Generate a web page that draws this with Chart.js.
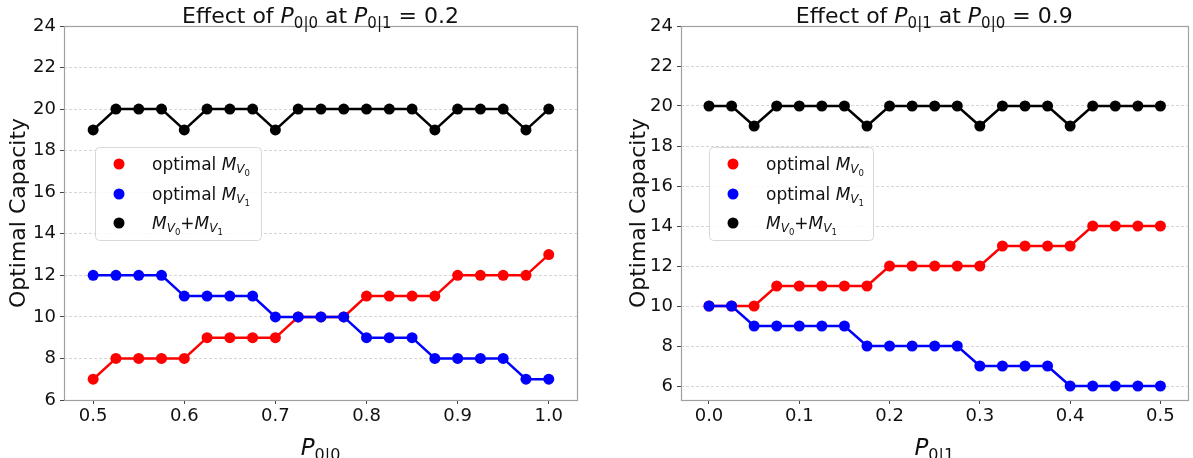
<!DOCTYPE html>
<html lang="en">
<head>
<meta charset="utf-8">
<title>Optimal Capacity vs P</title>
<script src="https://cdn.jsdelivr.net/npm/chart.js"></script>
<style>
  body { margin: 0; background: #fff; }
  #wrap { position: relative; width: 1193px; height: 458px; overflow: hidden; }
  canvas { position: absolute; top: 0; }
  #left { left: 0; }
  #right { left: 600px; }
</style>
</head>
<body>
<div id="wrap">
  <canvas id="left" width="600" height="458"></canvas>
  <canvas id="right" width="593" height="458"></canvas>
</div>
<script>
// left panel: sweep P0|0 with P0|1 = 0.2
const p00Values = [0.5, 0.525, 0.55, 0.575, 0.6, 0.625, 0.65, 0.675, 0.7, 0.725, 0.75,
                   0.775, 0.8, 0.825, 0.85, 0.875, 0.9, 0.925, 0.95, 0.975, 1.0];
const leftMV0 = [7, 8, 8, 8, 8, 9, 9, 9, 9, 10, 10, 10, 11, 11, 11, 11, 12, 12, 12, 12, 13];
const leftMV1 = [12, 12, 12, 12, 11, 11, 11, 11, 10, 10, 10, 10, 9, 9, 9, 8, 8, 8, 8, 7, 7];
const leftSum = [19, 20, 20, 20, 19, 20, 20, 20, 19, 20, 20, 20, 20, 20, 20, 19, 20, 20, 20, 19, 20];

// right panel: sweep P0|1 with P0|0 = 0.9
const p01Values = [0, 0.025, 0.05, 0.075, 0.1, 0.125, 0.15, 0.175, 0.2, 0.225, 0.25,
                   0.275, 0.3, 0.325, 0.35, 0.375, 0.4, 0.425, 0.45, 0.475, 0.5];
const rightMV0 = [10, 10, 10, 11, 11, 11, 11, 11, 12, 12, 12, 12, 12, 13, 13, 13, 13, 14, 14, 14, 14];
const rightMV1 = [10, 10, 9, 9, 9, 9, 9, 8, 8, 8, 8, 8, 7, 7, 7, 7, 6, 6, 6, 6, 6];
const rightSum = [20, 20, 19, 20, 20, 20, 20, 19, 20, 20, 20, 20, 19, 20, 20, 20, 19, 20, 20, 20, 20];

const yTicks = [6, 8, 10, 12, 14, 16, 18, 20, 22, 24];
const leftXTicks = [0.5, 0.6, 0.7, 0.8, 0.9, 1.0];
const rightXTicks = [0.0, 0.1, 0.2, 0.3, 0.4, 0.5];

const RED = '#ff0000', BLUE = '#0000ff', BLACK = '#000000';
const FAMILY = '"DejaVu Sans", sans-serif';

Chart.defaults.font.family = FAMILY;

function toPoints(xs, ys) {
    return xs.map((x, i) => ({ x: x, y: ys[i] }));
}

function lineSet(label, xs, ys, color, order) {
    return {
        label: label,
        data: toPoints(xs, ys),
        borderColor: color,
        backgroundColor: color,
        pointBackgroundColor: color,
        pointBorderWidth: 0,
        pointRadius: 5.5,
        pointHoverRadius: 5.5,
        borderWidth: 2.5,
        tension: 0,
        order: order,
    };
}

// text pieces for mathtext-like labels: t = text, s = size, it = italic, dy = baseline shift
function sub(t, s, dy) { return { t: t, s: s, dy: dy }; }

function drawRich(ctx, parts, x, y, align) {
    let total = 0;
    parts.forEach(p => {
        ctx.font = (p.it ? 'italic ' : '') + p.s + 'px ' + FAMILY;
        p.w = ctx.measureText(p.t).width;
        total += p.w;
    });
    let cx = align === 'center' ? x - total / 2 : x;
    parts.forEach(p => {
        ctx.font = (p.it ? 'italic ' : '') + p.s + 'px ' + FAMILY;
        ctx.fillText(p.t, cx, y + (p.dy || 0));
        cx += p.w;
    });
}

function mv(idx) {
    return [{ t: 'M', s: 17, it: true }, { t: 'V', s: 12, it: true, dy: 3 }, sub(idx, 8.5, 6)];
}

const legendRows = [
    { color: RED, parts: [{ t: 'optimal ', s: 17 }].concat(mv('0')) },
    { color: BLUE, parts: [{ t: 'optimal ', s: 17 }].concat(mv('1')) },
    { color: BLACK, parts: mv('0').concat([{ t: '+', s: 17 }], mv('1')) },
];

function decor(opts) {
    return {
        id: 'decor',
        afterDraw(chart) {
            const ctx = chart.ctx;
            const a = chart.chartArea;
            ctx.save();

            // spines
            ctx.strokeStyle = '#a0a0a0';
            ctx.lineWidth = 1.2;
            ctx.strokeRect(Math.round(a.left) + 0.5, Math.round(a.top) + 0.5,
                Math.round(a.right - a.left), Math.round(a.bottom - a.top));

            ctx.fillStyle = '#111';
            ctx.textBaseline = 'alphabetic';
            const mid = (a.left + a.right) / 2;
            drawRich(ctx, opts.title, mid, 23, 'center');
            drawRich(ctx, opts.xLabel, mid, 455, 'center');

            // legend box
            const bx = a.left + opts.legendDx, by = 147, bw = opts.legendW, bh = 93;
            ctx.beginPath();
            ctx.roundRect(bx + 0.5, by + 0.5, bw, bh, 4);
            ctx.fillStyle = 'rgba(255,255,255,0.85)';
            ctx.fill();
            ctx.strokeStyle = '#d8d8d8';
            ctx.lineWidth = 1;
            ctx.stroke();

            const rowY = [164, 194, 223];
            legendRows.forEach((row, i) => {
                ctx.beginPath();
                ctx.arc(bx + 24, rowY[i], 5.5, 0, Math.PI * 2);
                ctx.fillStyle = row.color;
                ctx.fill();
                ctx.fillStyle = '#111';
                drawRich(ctx, row.parts, bx + 57, rowY[i] + 6, 'left');
            });
            ctx.restore();
        },
    };
}

function makeChart(id, xs, mv0, mv1, sum, cfg) {
    return new Chart(document.getElementById(id), {
        type: 'line',
        data: {
            datasets: [
                lineSet('optimal MV0', xs, mv0, RED, 3),
                lineSet('optimal MV1', xs, mv1, BLUE, 2),
                lineSet('MV0+MV1', xs, sum, BLACK, 1),
            ],
        },
        options: {
            responsive: false,
            animation: false,
            events: [],
            layout: { padding: { left: 0, right: cfg.padRight, top: 26, bottom: 0 } },
            plugins: { legend: { display: false }, title: { display: false }, tooltip: { enabled: false } },
            scales: {
                x: {
                    type: 'linear',
                    min: cfg.xMin,
                    max: cfg.xMax,
                    afterBuildTicks: s => { s.ticks = cfg.xTicks.map(v => ({ value: v })); },
                    afterFit: s => { s.height = 58; },
                    grid: { drawOnChartArea: false, drawTicks: true, tickLength: 4, tickColor: '#444', tickWidth: 1 },
                    border: { display: false },
                    ticks: {
                        font: { size: 18 }, color: '#111', padding: 2, autoSkip: false, maxRotation: 0,
                        callback: v => Number(v).toFixed(1),
                    },
                },
                y: {
                    min: cfg.yMin,
                    max: 24,
                    afterBuildTicks: s => { s.ticks = yTicks.map(v => ({ value: v })); },
                    afterFit: s => { s.width = cfg.yWidth; },
                    grid: { color: '#cccccc', lineWidth: 0.8, tickLength: 4, tickColor: '#444', tickWidth: 1, tickBorderDash: [] },
                    border: { display: false, dash: [3, 2] },
                    ticks: { font: { size: 18 }, color: '#111', padding: 4, autoSkip: false },
                    title: {
                        display: true, text: 'Optimal Capacity', color: '#111',
                        font: { size: 22 }, padding: { top: cfg.yTitlePad, bottom: 0 },
                    },
                },
            },
        },
        plugins: [decor(cfg)],
    });
}

makeChart('left', p00Values, leftMV0, leftMV1, leftSum, {
    xMin: 0.468, xMax: 1.031, yMin: 6, xTicks: leftXTicks,
    yWidth: 64, padRight: 23, yTitlePad: 6,
    legendDx: 31, legendW: 166,
    title: [{ t: 'Effect of ', s: 22 }, { t: 'P', s: 22, it: true }, sub('0|0', 15, 5),
            { t: ' at ', s: 22 }, { t: 'P', s: 22, it: true }, sub('0|1', 15, 5), { t: ' = 0.2', s: 22 }],
    xLabel: [{ t: 'P', s: 23, it: true }, sub('0|0', 16, 5)],
});

makeChart('right', p01Values, rightMV0, rightMV1, rightSum, {
    xMin: -0.031, xMax: 0.530, yMin: 5.3, xTicks: rightXTicks,
    yWidth: 81, padRight: 2, yTitlePad: 26,
    legendDx: 28, legendW: 164,
    title: [{ t: 'Effect of ', s: 22 }, { t: 'P', s: 22, it: true }, sub('0|1', 15, 5),
            { t: ' at ', s: 22 }, { t: 'P', s: 22, it: true }, sub('0|0', 15, 5), { t: ' = 0.9', s: 22 }],
    xLabel: [{ t: 'P', s: 23, it: true }, sub('0|1', 16, 5)],
});
</script>
</body>
</html>
